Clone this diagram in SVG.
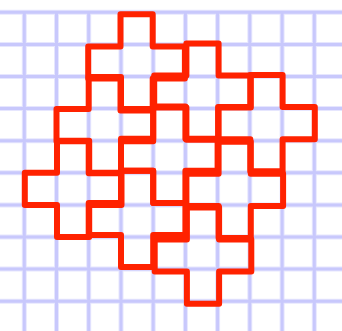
<svg xmlns="http://www.w3.org/2000/svg" width="342" height="331" viewBox="0 0 342 331">
<style>
.grid{stroke:#c8c8fc;stroke-width:3;fill:none}
.halo{stroke:#e6e6fe;stroke-width:5;fill:none}
.cross{fill:none;stroke:#ff2200;stroke-width:6;stroke-linejoin:round;stroke-linecap:round}
</style>
<rect width="342" height="331" fill="#ffffff"/>
<g id="grid">
<path class="halo" d="M24.3,11V331M56.5,11V331M88.7,11V331M121,11V331M153.2,11V331M185.4,11V331M217.6,11V331M249.8,11V331M282.1,11V331M314.3,11V331M0,12.3H342M0,44.4H342M0,76.5H342M0,108.6H342M0,140.7H342M0,172.8H342M0,204.9H342M0,237H342M0,269.1H342M0,301.2H342"/>
<path class="grid" d="M24.3,11V331M56.5,11V331M88.7,11V331M121,11V331M153.2,11V331M185.4,11V331M217.6,11V331M249.8,11V331M282.1,11V331M314.3,11V331M0,12.3H342M0,44.4H342M0,76.5H342M0,108.6H342M0,140.7H342M0,172.8H342M0,204.9H342M0,237H342M0,269.1H342M0,301.2H342"/>
</g>
<g id="crossA" transform="translate(-0.5,2)"><path class="cross" d="M121.0,12.3H153.2V44.4H185.4V76.5H153.2V108.6H121.0V76.5H88.7V44.4H121.0Z"/></g>
<g id="crossB" transform="translate(1,-1)"><path class="cross" d="M185.4,44.4H217.6V76.5H249.8V108.6H217.6V140.7H185.4V108.6H153.2V76.5H185.4Z"/></g>
<g id="crossC" transform="translate(0.5,-1.5)"><path class="cross" d="M249.8,76.5H282.1V108.6H314.3V140.7H282.1V172.8H249.8V140.7H217.6V108.6H249.8Z"/></g>
<g id="crossD" transform="translate(0,0.5)"><path class="cross" d="M88.7,76.5H121.0V108.6H153.2V140.7H121.0V172.8H88.7V140.7H56.5V108.6H88.7Z"/></g>
<g id="crossE" transform="translate(0.5,0)"><path class="cross" d="M56.5,140.7H88.7V172.8H121.0V204.9H88.7V237.0H56.5V204.9H24.3V172.8H56.5Z"/></g>
<g id="crossF" transform="translate(0,-2)"><path class="cross" d="M153.2,108.6H185.4V140.7H217.6V172.8H185.4V204.9H153.2V172.8H121.0V140.7H153.2Z"/></g>
<g id="crossG" transform="translate(1,1)"><path class="cross" d="M217.6,140.7H249.8V172.8H282.1V204.9H249.8V237.0H217.6V204.9H185.4V172.8H217.6Z"/></g>
<g id="crossH" transform="translate(1.5,2.5)"><path class="cross" d="M185.4,204.9H217.6V237.0H249.8V269.1H217.6V301.2H185.4V269.1H153.2V237.0H185.4Z"/></g>
<g id="crossI" transform="translate(0,-2)"><path class="cross" d="M121.0,172.8H153.2V204.9H185.4V237.0H153.2V269.1H121.0V237.0H88.7V204.9H121.0Z"/></g>
</svg>
